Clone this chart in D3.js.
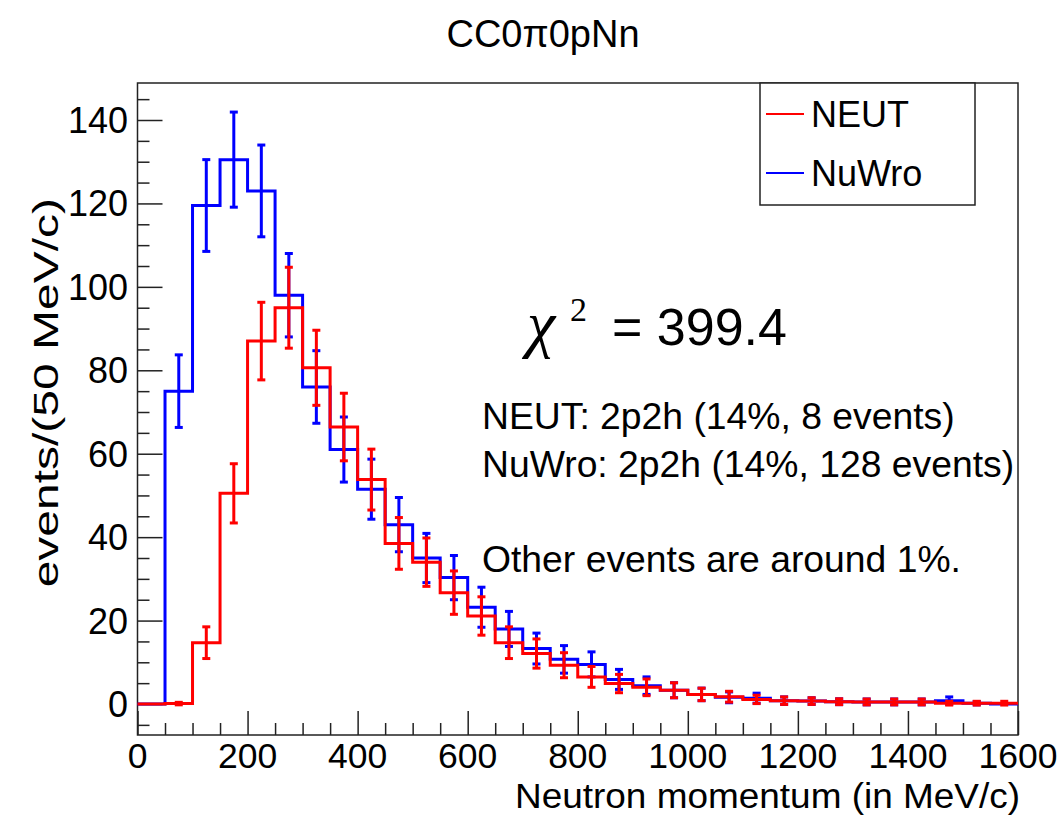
<!DOCTYPE html>
<html>
<head>
<meta charset="utf-8">
<script src="https://cdn.jsdelivr.net/npm/d3@7"></script>
<style>
  html, body { margin: 0; padding: 0; background: #fff; }
  svg { display: block; }
  text { font-family: "Liberation Sans", Arial, Helvetica, sans-serif; fill: #000; }
</style>
</head>
<body>
<svg id="chart" width="1064" height="816"></svg>
<script>
// bin low edges (MeV/c), 50 MeV/c wide, last bin ends at 1600
const binLow = [0, 50, 100, 150, 200, 250, 300, 350, 400, 450, 500, 550, 600, 650, 700, 750,
    800, 850, 900, 950, 1000, 1050, 1100, 1150, 1200, 1250, 1300, 1350, 1400, 1450, 1500, 1550]
const binWidth = 50

const nuwroValues = [0, 75, 119.5, 130.5, 123, 98, 76, 61, 51.5, 43, 35, 30.3, 23.2, 18, 13.3, 10.7,
    9.5, 5.9, 4.4, 3.3, 2.3, 1.6, 1.4, 0.8, 0.7, 0.55, 0.5, 0.5, 0.5, 0.8, 0.2, 0]
const nuwroErrors = [0, 8.7, 11, 11.4, 11, 10, 8.7, 7.8, 7.2, 6.5, 5.9, 5.3, 4.8, 4.2, 3.7, 3.3,
    3.0, 2.4, 2.1, 1.8, 1.5, 1.3, 1.2, 0.9, 0.8, 0.7, 0.7, 0.7, 0.7, 0.9, 0.4, 0]

const neutValues = [0, 0.1, 14.7, 50.5, 87, 95, 80.6, 66.4, 53.8, 38.5, 34, 26.7, 21.1, 14.7, 12.1, 9.3,
    6.5, 4.9, 4.0, 3.3, 2.3, 1.75, 1.1, 0.8, 0.7, 0.55, 0.5, 0.5, 0.5, 0.2, 0.2, 0.2]
const neutErrors = [0, 0.3, 3.8, 7.1, 9.3, 9.7, 9.0, 8.1, 7.3, 6.2, 5.8, 5.2, 4.6, 3.8, 3.5, 3.0,
    2.5, 2.2, 2.0, 1.8, 1.5, 1.3, 1.0, 0.9, 0.8, 0.7, 0.7, 0.7, 0.7, 0.45, 0.45, 0.45]

const xTicks = [0, 200, 400, 600, 800, 1000, 1200, 1400, 1600]
const xMinorTicks = [50, 100, 150, 250, 300, 350, 450, 500, 550, 650, 700, 750, 850, 900, 950,
    1050, 1100, 1150, 1250, 1300, 1350, 1450, 1500, 1550]
const yTicks = [0, 20, 40, 60, 80, 100, 120, 140]
const yMinorTicks = [-5, 5, 10, 15, 25, 30, 35, 45, 50, 55, 65, 70, 75, 85, 90, 95,
    105, 110, 115, 125, 130, 135, 145]

const series = [
    {name: 'NuWro', values: nuwroValues, errors: nuwroErrors, color: '#0000ff'},
    {name: 'NEUT', values: neutValues, errors: neutErrors, color: '#ff0000'}
]
const legendItems = [
    {name: 'NEUT', color: '#ff0000'},
    {name: 'NuWro', color: '#0000ff'}
]
const notes = [
    'NEUT: 2p2h (14%, 8 events)',
    'NuWro: 2p2h (14%, 128 events)',
    '',
    'Other events are around 1%.'
]

let frame = {left: 137.5, right: 1018, top: 83, bottom: 735}

let svg = d3.select('#chart')

let x = d3.scaleLinear()
    .domain([0, 1600])
    .range([frame.left, frame.right])

let y = d3.scaleLinear()
    .domain([-7.43, 148.87])
    .range([frame.bottom, frame.top])

// title
svg.append('text')
    .attr('x', 543)
    .attr('y', 47)
    .attr('text-anchor', 'middle')
    .style('font-size', '38px')
    .text('CC0π0pNn')

// frame
svg.append('rect')
    .attr('x', frame.left)
    .attr('y', frame.top)
    .attr('width', frame.right - frame.left)
    .attr('height', frame.bottom - frame.top)
    .attr('fill', 'none')
    .attr('stroke', '#222')
    .attr('stroke-width', 1.5)

// x axis ticks (pointing up, ROOT style)
let xAxis = svg.append('g')
    .attr('transform', `translate(0,${frame.bottom})`)
    .call(d3.axisTop(x).tickValues(xTicks).tickSize(24).tickFormat(''))
let xAxisMinor = svg.append('g')
    .attr('transform', `translate(0,${frame.bottom})`)
    .call(d3.axisTop(x).tickValues(xMinorTicks).tickSize(12).tickFormat(''))

// y axis ticks (pointing right)
let yAxis = svg.append('g')
    .attr('transform', `translate(${frame.left},0)`)
    .call(d3.axisRight(y).tickValues(yTicks).tickSize(25).tickFormat(''))
let yAxisMinor = svg.append('g')
    .attr('transform', `translate(${frame.left},0)`)
    .call(d3.axisRight(y).tickValues(yMinorTicks).tickSize(12).tickFormat(''))

;[xAxis, xAxisMinor, yAxis, yAxisMinor].forEach(g => {
    g.select('.domain').remove()
    g.selectAll('.tick line').attr('stroke', '#222').attr('stroke-width', 1.5)
})

// tick labels
svg.append('g').selectAll('text')
    .data(xTicks)
    .enter().append('text')
    .attr('x', d => x(d))
    .attr('y', 768)
    .attr('text-anchor', 'middle')
    .style('font-size', '35.5px')
    .text(d => d)

svg.append('g').selectAll('text')
    .data(yTicks)
    .enter().append('text')
    .attr('x', 128)
    .attr('y', d => y(d) + 13)
    .attr('text-anchor', 'end')
    .style('font-size', '36px')
    .text(d => d)

// axis titles
svg.append('text')
    .attr('x', 1020)
    .attr('y', 808)
    .attr('text-anchor', 'end')
    .attr('textLength', 505)
    .attr('lengthAdjust', 'spacingAndGlyphs')
    .style('font-size', '35.5px')
    .text('Neutron momentum (in MeV/c)')

svg.append('text')
    .attr('transform', 'translate(58,198) rotate(-90) scale(1.2,0.9)')
    .attr('text-anchor', 'end')
    .style('font-size', '40px')
    .text('events/(50 MeV/c)')

// histograms
let step = d3.line()
    .x(d => x(d[0]))
    .y(d => y(d[1]))
    .curve(d3.curveStepAfter)

series.forEach(s => {
    let pts = binLow.map((b, i) => [b, s.values[i]])
    pts.push([binLow[binLow.length - 1] + binWidth, s.values[s.values.length - 1]])

    let g = svg.append('g').attr('class', 'hist-' + s.name)

    g.append('path')
        .attr('d', step(pts))
        .attr('fill', 'none')
        .attr('stroke', s.color)
        .attr('stroke-width', 3)

    let bins = binLow.map((b, i) => ({
        c: b + binWidth / 2, v: s.values[i], e: s.errors[i]
    })).filter(d => d.e > 0)

    let eb = g.selectAll('.err')
        .data(bins)
        .enter().append('g')
        .attr('class', 'err')

    eb.append('line')
        .attr('x1', d => x(d.c)).attr('x2', d => x(d.c))
        .attr('y1', d => y(d.v - d.e)).attr('y2', d => y(d.v + d.e))
        .attr('stroke', s.color)
        .attr('stroke-width', 3)

    ;[-1, 1].forEach(sign => {
        eb.append('line')
            .attr('x1', d => x(d.c) - 4).attr('x2', d => x(d.c) + 4)
            .attr('y1', d => y(d.v + sign * d.e)).attr('y2', d => y(d.v + sign * d.e))
            .attr('stroke', s.color)
            .attr('stroke-width', 3)
    })
})

// legend
let legend = svg.append('g')
legend.append('rect')
    .attr('x', 760).attr('y', 83)
    .attr('width', 215).attr('height', 122)
    .attr('fill', '#fff')
    .attr('stroke', '#222')
    .attr('stroke-width', 1.5)

legendItems.forEach((item, i) => {
    let cy = 114 + i * 59
    legend.append('line')
        .attr('x1', 766).attr('x2', 804)
        .attr('y1', cy).attr('y2', cy)
        .attr('stroke', item.color)
        .attr('stroke-width', 2)
    legend.append('text')
        .attr('x', 811)
        .attr('y', cy + 13)
        .style('font-size', '36px')
        .text(item.name)
})

// chi-square annotation
svg.append('text')
    .attr('x', 527)
    .attr('y', 345)
    .style('font-family', '"Liberation Serif", "DejaVu Serif", serif')
    .style('font-style', 'italic')
    .style('font-size', '64px')
    .text('χ')
svg.append('text')
    .attr('x', 570)
    .attr('y', 321)
    .style('font-family', '"Liberation Serif", "DejaVu Serif", serif')
    .style('font-size', '34px')
    .text('2')
svg.append('text')
    .attr('x', 612)
    .attr('y', 345)
    .style('font-size', '52px')
    .text('= 399.4')

svg.append('g').selectAll('text')
    .data(notes)
    .enter().append('text')
    .attr('x', 482)
    .attr('y', (d, i) => 429 + i * 47.7)
    .style('font-size', '37.3px')
    .text(d => d)
</script>
</body>
</html>
